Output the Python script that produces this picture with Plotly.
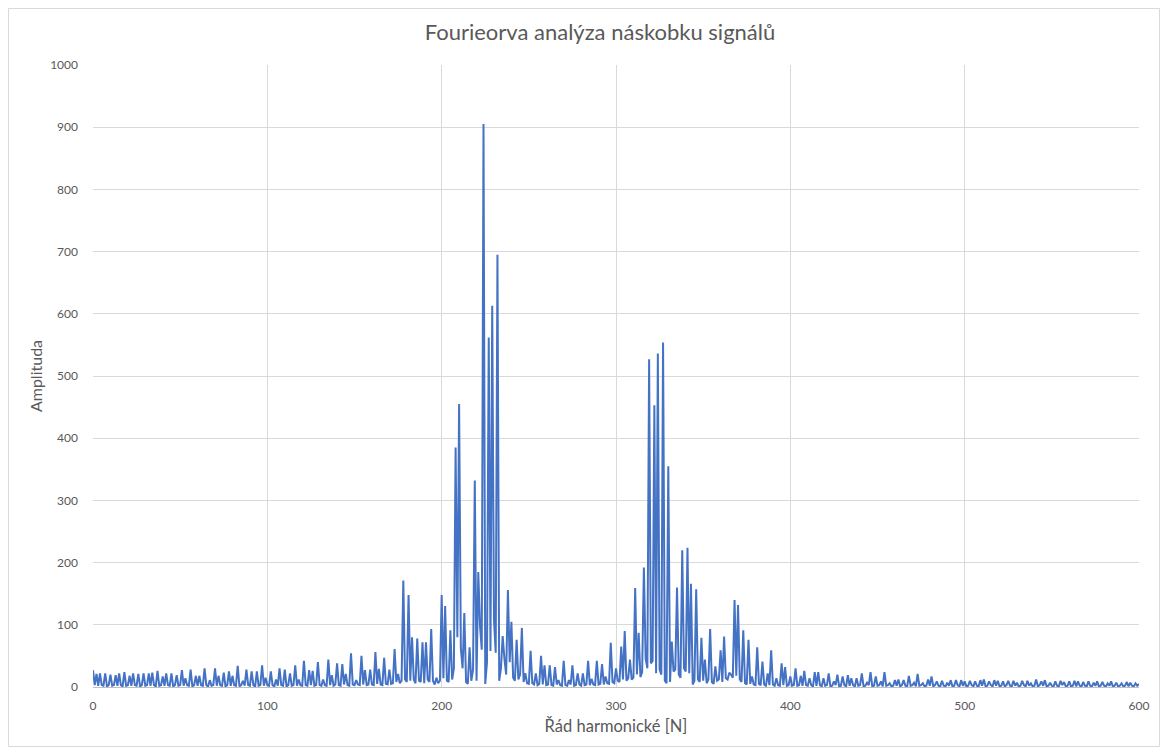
import plotly.graph_objects as go

# harmonic order 0..600
harmonics = list(range(0, 601))

amp_000_099 = [
    27, 3, 21, 2, 22, 3, 2, 22, 1, 3,
    20, 2, 3, 19, 2, 22, 3, 1, 24, 2,
    3, 18, 2, 22, 3, 2, 21, 1, 3, 22,
    2, 3, 22, 2, 23, 3, 1, 26, 2, 3,
    17, 2, 22, 3, 2, 22, 1, 3, 19, 2,
    3, 27, 2, 14, 3, 2, 28, 1, 3, 18,
    2, 18, 3, 2, 30, 3, 1, 11, 2, 3,
    30, 2, 18, 3, 2, 23, 1, 3, 25, 2,
    18, 3, 2, 34, 1, 3, 10, 2, 28, 3,
    2, 25, 3, 1, 25, 2, 3, 35, 2, 15,
]
amp_100_199 = [
    3, 2, 25, 3, 1, 12, 2, 30, 3, 2,
    28, 1, 3, 22, 2, 3, 35, 2, 12, 3,
    2, 42, 3, 2, 27, 3, 26, 2, 3, 40,
    3, 2, 12, 3, 2, 44, 3, 19, 2, 4,
    38, 3, 2, 37, 4, 21, 3, 2, 54, 4,
    3, 11, 4, 3, 50, 4, 27, 3, 4, 28,
    4, 3, 56, 5, 29, 4, 3, 47, 5, 4,
    28, 5, 6, 61, 8, 21, 6, 10, 171, 12,
    8, 148, 10, 80, 12, 6, 78, 10, 8, 72,
    6, 72, 12, 8, 93, 10, 4, 15, 6, 10,
]
amp_200_299 = [
    148, 14, 130, 10, 8, 91, 12, 30, 385, 80,
    455, 62, 30, 119, 8, 5, 64, 10, 28, 332,
    10, 185, 98, 60, 905, 5, 40, 562, 58, 613,
    108, 55, 695, 10, 30, 82, 45, 20, 156, 40,
    105, 15, 10, 76, 12, 20, 95, 8, 22, 6,
    5, 58, 6, 4, 22, 3, 5, 50, 4, 35,
    3, 4, 35, 3, 2, 32, 4, 11, 3, 2,
    42, 3, 2, 11, 4, 35, 2, 3, 22, 4,
    2, 22, 3, 4, 42, 3, 13, 4, 3, 42,
    4, 5, 37, 4, 17, 6, 5, 71, 8, 6,
]
amp_300_399 = [
    30, 10, 8, 65, 12, 90, 10, 14, 44, 12,
    15, 159, 20, 87, 16, 24, 192, 45, 30, 527,
    38, 42, 453, 22, 536, 28, 20, 554, 10, 6,
    355, 8, 73, 25, 28, 160, 20, 15, 220, 30,
    25, 224, 22, 166, 4, 10, 157, 12, 8, 79,
    10, 44, 6, 12, 93, 8, 5, 33, 10, 12,
    59, 8, 81, 14, 12, 23, 20, 15, 140, 18,
    132, 12, 8, 91, 6, 4, 76, 5, 17, 4,
    3, 64, 5, 3, 41, 4, 2, 22, 3, 59,
    4, 2, 14, 3, 2, 38, 3, 32, 2, 3,
]
amp_400_499 = [
    17, 2, 3, 30, 2, 3, 18, 2, 26, 3,
    2, 14, 3, 1, 24, 2, 24, 3, 1, 14,
    2, 3, 22, 1, 2, 9, 3, 20, 1, 2,
    17, 3, 1, 19, 2, 14, 3, 1, 14, 2,
    3, 22, 1, 2, 7, 3, 24, 1, 2, 17,
    2, 3, 9, 1, 24, 2, 3, 6, 1, 2,
    11, 2, 12, 1, 3, 11, 2, 1, 18, 2,
    3, 7, 1, 21, 2, 3, 6, 1, 2, 12,
    2, 17, 1, 3, 9, 2, 1, 10, 2, 1,
    7, 2, 11, 1, 2, 11, 3, 1, 11, 2,
]
amp_500_600 = [
    9, 1, 2, 10, 3, 1, 9, 2, 1, 11,
    2, 12, 1, 2, 9, 3, 1, 11, 2, 10,
    1, 2, 9, 1, 3, 10, 2, 1, 10, 2,
    7, 1, 2, 10, 3, 1, 10, 2, 6, 1,
    2, 12, 1, 3, 9, 2, 11, 1, 2, 7,
    2, 1, 9, 2, 1, 10, 3, 8, 1, 2,
    9, 1, 2, 10, 1, 9, 2, 1, 8, 2,
    1, 9, 2, 1, 7, 2, 9, 1, 2, 8,
    2, 1, 6, 2, 9, 1, 2, 7, 1, 2,
    6, 1, 2, 8, 1, 7, 2, 1, 6, 2,
    5,
]

amplitude = amp_000_099 + amp_100_199 + amp_200_299 + amp_300_399 + amp_400_499 + amp_500_600

title_text = "Fourieorva analýza náskobku signálů"
x_title = "Řád harmonické [N]"
y_title = "Amplituda"
x_ticks = [0, 100, 200, 300, 400, 500, 600]
y_ticks = [0, 100, 200, 300, 400, 500, 600, 700, 800, 900, 1000]

font_family = "Lato, 'Liberation Sans', sans-serif"
gray = "#595959"

W, H = 1152, 739
ML, MT, MR, MB = 85, 57, 21, 60
PW, PH = W - ML - MR, H - MT - MB

fig = go.Figure()
fig.add_trace(go.Scatter(
    x=harmonics, y=amplitude, mode="lines",
    line=dict(color="#4472C4", width=2),
    hoverinfo="x+y", showlegend=False,
))

fig.update_layout(
    width=W, height=H,
    paper_bgcolor="white", plot_bgcolor="white",
    margin=dict(l=ML, r=MR, t=MT, b=MB),
    title=dict(text=title_text, x=(600 - 8) / W, xanchor="center", y=1 - 24 / H, yanchor="middle",
               font=dict(family=font_family, size=22, color=gray)),
    font=dict(family=font_family, color=gray),
    xaxis=dict(
        range=[0, 600], tickvals=x_ticks, showgrid=True, gridcolor="#D9D9D9", gridwidth=1,
        zeroline=False, showline=True, linecolor="#BFBFBF", linewidth=1,
        ticks="", ticklabelstandoff=8, tickfont=dict(size=12, color=gray),
        title=dict(text=x_title, font=dict(size=16.5, color=gray), standoff=8),
    ),
    yaxis=dict(
        range=[0, 1000], tickvals=y_ticks, showgrid=True, gridcolor="#D9D9D9", gridwidth=1,
        zeroline=False, showline=False, ticks="", ticklabelstandoff=14,
        tickfont=dict(size=12, color=gray),
        title=dict(text=y_title, font=dict(size=16, color=gray), standoff=3),
    ),
)

fig.add_shape(type="rect", xref="paper", yref="paper",
              x0=-(ML - 0.5) / PW, x1=1 + (MR - 0.5) / PW,
              y0=-(MB - 0.5) / PH, y1=1 + (MT - 0.5) / PH,
              line=dict(color="#D9D9D9", width=1), layer="below")

fig.write_html("out.html")
